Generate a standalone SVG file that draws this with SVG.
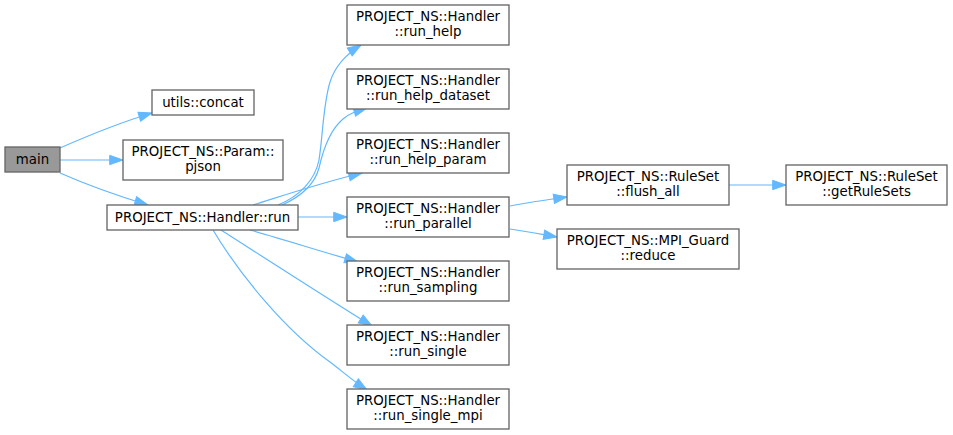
<svg xmlns="http://www.w3.org/2000/svg" width="953" height="435" viewBox="0 0 953 435">
<style>
.node rect{fill:#ffffff;stroke:#666666;stroke-width:1.33}
.node.cur rect{fill:#999999}
.node text{font-family:"DejaVu Sans","Liberation Sans",sans-serif;font-size:13.33px;fill:#000000;text-anchor:middle}
.edges path{fill:none;stroke:#63b8ff;stroke-width:1.2;marker-end:url(#arr)}
</style>
<defs>
<marker id="arr" markerUnits="userSpaceOnUse" markerWidth="16" markerHeight="12" viewBox="-1 -6 16 12" refX="13.3" refY="0" orient="auto">
<path d="M0,-4.67 L13.3,0 L0,4.67 Z" fill="#63b8ff" stroke="#63b8ff" stroke-width="1"/>
</marker>
</defs>
<rect width="953" height="435" fill="#ffffff"/>
<g class="edges">
<path d="M60,148 C85,137 115,124 152,113"/>
<path d="M60,160 L123,160"/>
<path d="M60,173 C85,184 115,195 148,205"/>
<path d="M278,205 C300,196 315,180 319,160 C323,135 323,105 330,82 C335,66 345,55 361,45"/>
<path d="M282,205 C302,196 315,183 319,168 C323,150 330,130 343,119 C350,113 357,111 367,108"/>
<path d="M253,205 C285,195 320,183 362,173"/>
<path d="M298,217 L347,217"/>
<path d="M250,230 C285,240 320,251 358,262"/>
<path d="M221,230 C260,255 330,300 372,326"/>
<path d="M213,230 C240,275 285,330 330,362 C342,371 353,381 367,390"/>
<path d="M510,206 C525,203 545,200 567,197"/>
<path d="M510,229 C525,231 540,234 557,237"/>
<path d="M729,185 L786,185"/>
</g>
<g id="node_main" class="node cur"><rect x="5" y="147" width="55" height="25"/><text x="32.5" y="164">main</text></g>
<g id="node_concat" class="node"><rect x="152" y="90" width="102" height="25"/><text x="203" y="107">utils::concat</text></g>
<g id="node_pjson" class="node"><rect x="123" y="140" width="160" height="40"/><text x="203" y="156">PROJECT_NS::Param::</text><text x="203" y="170.7">pjson</text></g>
<g id="node_run" class="node"><rect x="107" y="205" width="191" height="25"/><text x="202.5" y="222">PROJECT_NS::Handler::run</text></g>
<g id="node_run_help" class="node"><rect x="347" y="5" width="162" height="40"/><text x="428" y="21">PROJECT_NS::Handler</text><text x="428" y="35.7">::run_help</text></g>
<g id="node_run_help_dataset" class="node"><rect x="347" y="69" width="162" height="40"/><text x="428" y="85">PROJECT_NS::Handler</text><text x="428" y="99.7">::run_help_dataset</text></g>
<g id="node_run_help_param" class="node"><rect x="347" y="133" width="162" height="40"/><text x="428" y="149">PROJECT_NS::Handler</text><text x="428" y="163.7">::run_help_param</text></g>
<g id="node_run_parallel" class="node"><rect x="347" y="197" width="162" height="40"/><text x="428" y="213">PROJECT_NS::Handler</text><text x="428" y="227.7">::run_parallel</text></g>
<g id="node_run_sampling" class="node"><rect x="347" y="261" width="162" height="40"/><text x="428" y="277">PROJECT_NS::Handler</text><text x="428" y="291.7">::run_sampling</text></g>
<g id="node_run_single" class="node"><rect x="347" y="325" width="162" height="40"/><text x="428" y="341">PROJECT_NS::Handler</text><text x="428" y="355.7">::run_single</text></g>
<g id="node_run_single_mpi" class="node"><rect x="347" y="389" width="162" height="40"/><text x="428" y="405">PROJECT_NS::Handler</text><text x="428" y="419.7">::run_single_mpi</text></g>
<g id="node_flush_all" class="node"><rect x="567" y="165" width="162" height="40"/><text x="648" y="181">PROJECT_NS::RuleSet</text><text x="648" y="195.7">::flush_all</text></g>
<g id="node_reduce" class="node"><rect x="557" y="229" width="182" height="40"/><text x="648" y="245">PROJECT_NS::MPI_Guard</text><text x="648" y="259.7">::reduce</text></g>
<g id="node_getRuleSets" class="node"><rect x="786" y="165" width="161" height="40"/><text x="866.5" y="181">PROJECT_NS::RuleSet</text><text x="866.5" y="195.7">::getRuleSets</text></g>
</svg>
